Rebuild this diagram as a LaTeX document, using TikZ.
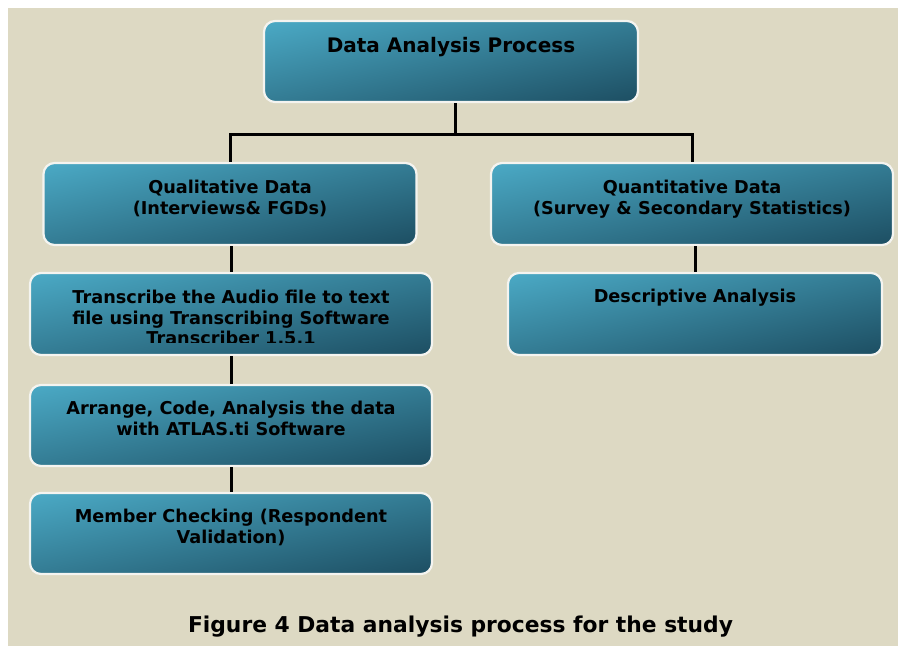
\documentclass[tikz,border=0pt]{standalone}
\usepackage{fontspec}
\setmainfont{DejaVu Sans}
\definecolor{bgtan}{HTML}{DDD9C3}
\definecolor{rim}{HTML}{F4F4F0}
\pgfdeclarefunctionalshading{tealdiag}{\pgfpoint{0bp}{0bp}}{\pgfpoint{100bp}{100bp}}{}{
  100 exch sub add 200 div
  dup -0.36 mul 0.3828 add exch
  dup -0.72 mul 0.8456 add exch
  -0.78 mul 0.9694 add
}
\tikzset{
  box/.style={rectangle, rounded corners=11pt, draw=rim, line width=2.2pt,
    shading=tealdiag, inner sep=0pt},
  lbl/.style={font=\bfseries\fontsize{17.7}{20.7}\selectfont, align=center, anchor=base, inner sep=0pt, text=black},
  ttl/.style={font=\bfseries\fontsize{20}{24}\selectfont, anchor=base, inner sep=0pt, text=black},
  figcaption/.style={font=\bfseries\fontsize{21.8}{26}\selectfont, anchor=base, inner sep=0pt, text=black},
  conn/.style={line width=3pt, black}
}
\begin{document}
\begin{tikzpicture}[x=1pt,y=-1pt]
\useasboundingbox (0,0) rectangle (898,646);
\fill[white] (0,0) rectangle (898,646);
\fill[bgtan] (8,8) rectangle (898,646);
% boxes
\node[box, minimum width=374pt, minimum height=81pt] (top) at (451,61.5) {};
\node[box, minimum width=373pt, minimum height=82pt] (qual) at (230,204) {};
\node[box, minimum width=402pt, minimum height=82pt] (quant) at (692,204) {};
\node[box, minimum width=402pt, minimum height=82pt] (trans) at (231,314) {};
\node[box, minimum width=374pt, minimum height=82pt] (desc) at (695,314) {};
\node[box, minimum width=402pt, minimum height=81pt] (arr) at (231,425.5) {};
\node[box, minimum width=402pt, minimum height=81pt] (mem) at (231,533.5) {};
% connectors
\coordinate (fork) at (455,134);
\draw[conn] (fork |- top.south) -- (fork);
\draw[conn] (qual.north) |- (fork) -| (quant.north);
\draw[conn] (trans.north |- qual.south) -- (trans.north);
\draw[conn] (trans.south) -- (arr.north);
\draw[conn] (arr.south) -- (mem.north);
\draw[conn] (desc.north |- quant.south) -- (desc.north);
% labels
\node[ttl] (ttop) at (451,52) {Data Analysis Process};
\node[lbl] (tqual) at (230,214.2) {Qualitative Data\\(Interviews\& FGDs)};
\node[lbl] (tquant) at (692,214.2) {Quantitative Data\\(Survey \& Secondary Statistics)};
\begin{scope}
\clip (30,273) rectangle (432,342);
\node[lbl] (ttrans) at (231,344.9) {Transcribe the Audio file to text\\file using Transcribing Software\\Transcriber 1.5.1};
\end{scope}
\node[lbl] (tdesc) at (695,302) {Descriptive Analysis};
\node[lbl] (tarr) at (231,435.2) {Arrange, Code, Analysis the data\\with ATLAS.ti Software};
\node[lbl] (tmem) at (231,543.2) {Member Checking (Respondent\\Validation)};
\node[figcaption] (caption) at (460.5,632) {Figure 4 Data analysis process for the study};
\end{tikzpicture}
\end{document}
